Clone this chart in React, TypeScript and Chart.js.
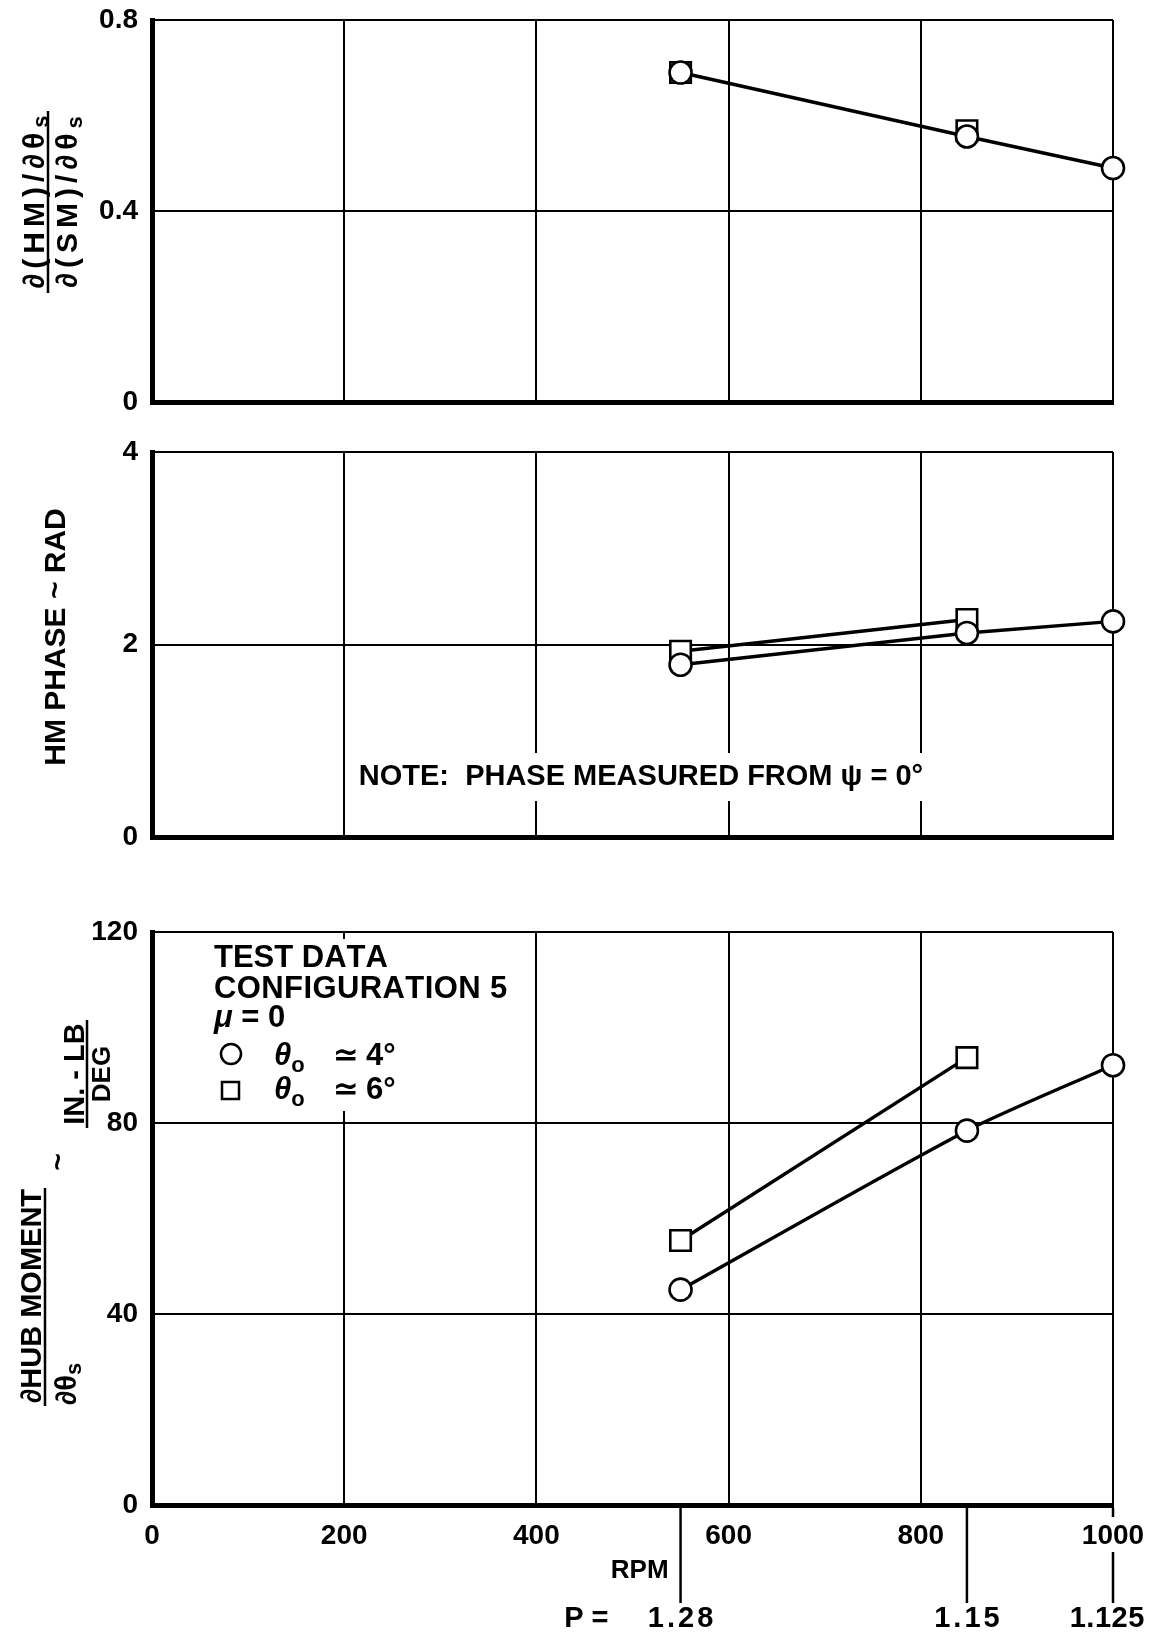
import React, { useEffect, useRef } from "react";
import { Chart, registerables } from "chart.js";
Chart.register(...registerables);

const FONT = "'Liberation Sans', 'DejaVu Sans', Arial, sans-serif";

// ---- data ----
const rpmTicks = [0, 200, 400, 600, 800, 1000];
const rpmCircle = [550, 848, 1000];
const rpmSquare = [550, 848];
const ratioTicks = [0, 0.4, 0.8];
const ratioCircle = [0.69, 0.556, 0.49];
const ratioSquare = [0.69, 0.568];
const phaseTicks = [0, 2, 4];
const phaseCircle = [1.79, 2.12, 2.24];
const phaseSquare = [1.93, 2.26];
const hubTicks = [0, 40, 80, 120];
const hubCircle = [45.1, 78.4, 92.1];
const hubSquare = [55.4, 93.7];
const pRpm = [550, 848, 1000];
const pLabels = ["1.28", "1.15", "1.125"];
const legendHeader = ["TEST DATA", "CONFIGURATION 5", "μ = 0"];
const seriesValues = ["4°", "6°"];
const noteText = "NOTE:  PHASE MEASURED FROM ψ = 0°";

type Run = { t: string; size: number; dy?: number; italic?: boolean };

const fnt = (size: number, italic?: boolean) =>
  `${italic ? "italic " : ""}bold ${size}px ${FONT}`;

function runsWidth(ctx: CanvasRenderingContext2D, runs: Run[], spacing: number) {
  let w = 0;
  let n = 0;
  for (const r of runs) {
    ctx.font = fnt(r.size, r.italic);
    for (const ch of Array.from(r.t)) {
      w += ctx.measureText(ch).width;
      n++;
    }
  }
  return w + spacing * Math.max(0, n - 1);
}

function drawRuns(
  ctx: CanvasRenderingContext2D,
  runs: Run[],
  x: number,
  y: number,
  align: "center" | "left" | "right",
  rotate: boolean,
  spacing = 0,
  baseline: CanvasTextBaseline = "alphabetic"
) {
  ctx.save();
  ctx.translate(x, y);
  if (rotate) ctx.rotate(-Math.PI / 2);
  ctx.fillStyle = "#000";
  ctx.textAlign = "left";
  ctx.textBaseline = baseline;
  const w = runsWidth(ctx, runs, spacing);
  let cx = align === "center" ? -w / 2 : align === "right" ? -w : 0;
  for (const r of runs) {
    ctx.font = fnt(r.size, r.italic);
    for (const ch of Array.from(r.t)) {
      ctx.fillText(ch, cx, r.dy || 0);
      cx += ctx.measureText(ch).width + spacing;
    }
  }
  ctx.restore();
  return w;
}

function seg(ctx: CanvasRenderingContext2D, x1: number, y1: number, x2: number, y2: number, w: number) {
  ctx.save();
  ctx.strokeStyle = "#000";
  ctx.lineWidth = w;
  ctx.beginPath();
  ctx.moveTo(x1, y1);
  ctx.lineTo(x2, y2);
  ctx.stroke();
  ctx.restore();
}

type PanelOpts = {
  yTicks: number[];
  circle: number[];
  square: number[];
  squareLine: boolean;
  padTop: number;
  xHeight: number;
  showX: boolean;
  tension: number;
  plugin: any;
};

function panelConfig(p: PanelOpts): any {
  const ymax = p.yTicks[p.yTicks.length - 1];
  const tickFont = { size: 28, weight: "bold" as const, family: FONT };
  return {
    type: "scatter",
    data: {
      datasets: [
        {
          label: "circle",
          data: rpmCircle.map((x, i) => ({ x, y: p.circle[i] })),
          showLine: true,
          borderColor: "#000",
          borderWidth: 3.4,
          pointStyle: "circle",
          pointRadius: 11,
          pointBorderWidth: 2.6,
          pointBackgroundColor: "#fff",
          pointBorderColor: "#000",
          tension: p.tension,
          clip: false,
        },
        {
          label: "square",
          data: rpmSquare.map((x, i) => ({ x, y: p.square[i] })),
          showLine: p.squareLine,
          borderColor: "#000",
          borderWidth: 3.4,
          pointStyle: "rect",
          pointRadius: 14.5,
          pointBorderWidth: 2.6,
          pointBackgroundColor: "#fff",
          pointBorderColor: "#000",
          tension: 0,
          clip: false,
        },
      ],
    },
    options: {
      responsive: false,
      animation: false,
      devicePixelRatio: 1,
      events: [],
      layout: { padding: { left: 0, right: 46, top: p.padTop, bottom: 0 } },
      plugins: { legend: { display: false }, tooltip: { enabled: false } },
      scales: {
        x: {
          type: "linear",
          min: 0,
          max: 1000,
          afterBuildTicks: (s: any) => {
            s.ticks = rpmTicks.map((v) => ({ value: v }));
          },
          afterFit: (s: any) => {
            s.height = p.xHeight;
            s.paddingLeft = 0;
            s.paddingRight = 0;
          },
          grid: { color: "#000", lineWidth: 2, drawTicks: false },
          border: { display: true, color: "#000", width: 5 },
          ticks: {
            display: p.showX,
            padding: 14,
            color: "#000",
            font: tickFont,
            maxRotation: 0,
            autoSkip: false,
            callback: (v: any) => String(v),
          },
        },
        y: {
          type: "linear",
          min: 0,
          max: ymax,
          afterBuildTicks: (s: any) => {
            s.ticks = p.yTicks.map((v) => ({ value: v }));
          },
          afterFit: (s: any) => {
            s.width = 152;
            s.paddingTop = 0;
            s.paddingBottom = 0;
          },
          grid: { color: "#000", lineWidth: 2, drawTicks: false },
          border: { display: true, color: "#000", width: 5 },
          ticks: {
            padding: 14,
            color: "#000",
            font: tickFont,
            autoSkip: false,
            callback: (v: any) => String(v),
          },
        },
      },
    },
    plugins: [p.plugin],
  };
}

const topPlugin = {
  id: "topDecor",
  afterDraw(chart: any) {
    const ctx = chart.ctx as CanvasRenderingContext2D;
    drawRuns(ctx, [{ t: "∂(HM)/∂θ", size: 30 }, { t: "s", size: 22, dy: 4 }], 44, 202, "center", true, 5);
    seg(ctx, 48, 111, 48, 293, 2.5);
    drawRuns(ctx, [{ t: "∂(SM)/∂θ", size: 30 }, { t: "s", size: 22, dy: 5 }], 77, 202, "center", true, 5);
  },
};

const midPlugin = {
  id: "midDecor",
  afterDraw(chart: any) {
    const ctx = chart.ctx as CanvasRenderingContext2D;
    drawRuns(ctx, [{ t: "HM PHASE ~ RAD", size: 30 }], 65, 207, "center", true, 0);
    const runs: Run[] = [{ t: noteText, size: 29 }];
    const w = runsWidth(ctx, runs, 0);
    const cx = 641;
    ctx.save();
    ctx.fillStyle = "#fff";
    ctx.fillRect(cx - w / 2 - 8, 323, w + 16, 48);
    ctx.restore();
    drawRuns(ctx, runs, cx, 355, "center", false, 0);
  },
};

const botPlugin = {
  id: "botDecor",
  afterDraw(chart: any) {
    const ctx = chart.ctx as CanvasRenderingContext2D;
    const xs = chart.scales.x;
    const axisY = chart.chartArea.bottom;
    // y title
    drawRuns(ctx, [{ t: "∂HUB MOMENT", size: 29 }], 41, 426, "center", true, 0);
    seg(ctx, 45, 318, 45, 536, 2.5);
    drawRuns(ctx, [{ t: "∂θ", size: 29 }, { t: "s", size: 22, dy: 5 }], 76, 535, "left", true, 0);
    drawRuns(ctx, [{ t: "~", size: 30 }], 60, 292, "center", true, 0, "middle");
    drawRuns(ctx, [{ t: "IN. - LB", size: 29 }], 84, 204, "center", true, 0);
    seg(ctx, 87, 150, 87, 258, 2.5);
    drawRuns(ctx, [{ t: "DEG", size: 26 }], 110, 204, "center", true, 0);

    // legend block
    ctx.save();
    ctx.fillStyle = "#fff";
    ctx.fillRect(208, 69, 312, 172);
    ctx.restore();
    const lx = 214;
    const base = [97, 128, 157, 195, 229];
    legendHeader.forEach((t, i) => {
      const runs: Run[] =
        i === 2
          ? [{ t: "μ", size: 31, italic: true }, { t: t.slice(1), size: 31 }]
          : [{ t, size: 31 }];
      drawRuns(ctx, runs, lx, base[i], "left", false, i === 1 ? 0.4 : 0);
    });
    ctx.save();
    ctx.strokeStyle = "#000";
    ctx.lineWidth = 2.5;
    ctx.beginPath();
    ctx.arc(231, base[3] - 11, 10, 0, Math.PI * 2);
    ctx.stroke();
    ctx.strokeRect(222, base[4] - 17, 17, 17);
    ctx.restore();
    seriesValues.forEach((v, i) => {
      const b = base[3 + i];
      drawRuns(ctx, [{ t: "θ", size: 31, italic: true }, { t: "o", size: 22, dy: 7 }], 274, b, "left", false, 0);
      drawRuns(ctx, [{ t: "≃", size: 31 }], 333, b, "left", false, 0);
      drawRuns(ctx, [{ t: v, size: 31 }], 366, b, "left", false, 0);
    });

    // drop lines and P labels
    const px = pRpm.map((v) => xs.getPixelForValue(v));
    px.forEach((x, i) => {
      const last = i === pRpm.length - 1;
      if (last) {
        seg(ctx, x, axisY + 3, x, axisY + 12, 2.5);
        seg(ctx, x, axisY + 47, x, axisY + 98, 2.5);
      } else {
        seg(ctx, x, axisY + 3, x, axisY + 98, 2.5);
      }
      drawRuns(ctx, [{ t: pLabels[i], size: 29 }], last ? x - 6 : x, axisY + 122, "center", false, last ? 0.5 : 3);
    });
    drawRuns(ctx, [{ t: "RPM", size: 26 }], px[0] - 12, axisY + 73, "right", false, 0);
    drawRuns(ctx, [{ t: "P =", size: 29 }], px[0] - 72, axisY + 122, "right", false, 0);
  },
};

export default function App() {
  const r1 = useRef<HTMLCanvasElement>(null);
  const r2 = useRef<HTMLCanvasElement>(null);
  const r3 = useRef<HTMLCanvasElement>(null);

  useEffect(() => {
    Chart.defaults.font.family = FONT;
    const charts: Chart[] = [];
    charts.push(
      new Chart(
        r1.current!,
        panelConfig({
          yTicks: ratioTicks,
          circle: ratioCircle,
          square: ratioSquare,
          squareLine: false,
          padTop: 20,
          xHeight: 28,
          showX: false,
          tension: 0,
          plugin: topPlugin,
        })
      )
    );
    charts.push(
      new Chart(
        r2.current!,
        panelConfig({
          yTicks: phaseTicks,
          circle: phaseCircle,
          square: phaseSquare,
          squareLine: true,
          padTop: 22,
          xHeight: 33,
          showX: false,
          tension: 0,
          plugin: midPlugin,
        })
      )
    );
    charts.push(
      new Chart(
        r3.current!,
        panelConfig({
          yTicks: hubTicks,
          circle: hubCircle,
          square: hubSquare,
          squareLine: true,
          padTop: 62,
          xHeight: 132,
          showX: true,
          tension: 0.25,
          plugin: botPlugin,
        })
      )
    );
    return () => charts.forEach((c) => c.destroy());
  }, []);

  const cs = (top: number, h: number): React.CSSProperties => ({
    position: "absolute",
    left: 0,
    top,
    width: 1159,
    height: h,
    display: "block",
  });

  return (
    <div style={{ position: "absolute", left: 0, top: 0, width: 1159, height: 1637, background: "#fff" }}>
      <canvas ref={r1} width={1159} height={430} style={cs(0, 430)} />
      <canvas ref={r2} width={1159} height={440} style={cs(430, 440)} />
      <canvas ref={r3} width={1159} height={767} style={cs(870, 767)} />
    </div>
  );
}
